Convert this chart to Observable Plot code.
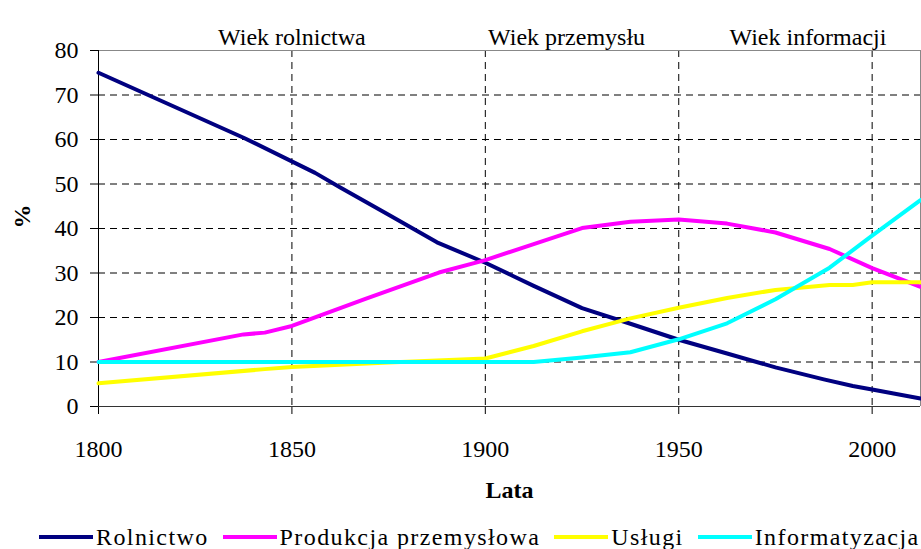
<!DOCTYPE html>
<html>
<head>
<meta charset="utf-8">
<script src="https://cdn.jsdelivr.net/npm/d3@7"></script>
<script src="https://cdn.jsdelivr.net/npm/@observablehq/plot@0.6"></script>
<style>
  html, body { margin: 0; padding: 0; background: white; }
  #wrap { position: relative; width: 921px; height: 549px; }
  #legend { position: absolute; left: 39px; top: 524px; height: 26px; display: flex; align-items: center; gap: 14px; color: black; white-space: nowrap; }
  .item { display: flex; align-items: center; gap: 3px; }
  .swatch { width: 54px; height: 4px; }
</style>
</head>
<body>
<div id="wrap"><div id="chart"></div><div id="legend"></div></div>
<script>
const seriesNames = ["Rolnictwo", "Produkcja przemysłowa", "Usługi", "Informatyzacja"];
const seriesColors = ["#000080", "#FF00FF", "#FFFF00", "#00FFFF"];

const rolYears = [1800, 1837.5, 1856, 1862.5, 1875, 1887.5, 1900, 1912.5, 1925, 1937.5, 1950, 1962.5, 1975, 1987.5, 1995, 2000, 2012.5];
const rolValues = [75, 60.4, 52.5, 49.2, 43.1, 36.9, 32.3, 27.1, 22.1, 18.6, 15, 11.9, 8.8, 6.1, 4.6, 3.8, 1.8];

const prodYears = [1800, 1837.5, 1843, 1850, 1869, 1888, 1900, 1912.5, 1925, 1937.5, 1950, 1962.5, 1975, 1989, 2000, 2012.5];
const prodValues = [10, 16.2, 16.6, 18.1, 24.2, 30.1, 32.9, 36.5, 40.1, 41.5, 42, 41.1, 39.1, 35.4, 31.1, 26.9];

const uslYears = [1800, 1843, 1850, 1875, 1900, 1912.5, 1925, 1937.5, 1950, 1962.5, 1975, 1989, 1995, 2000, 2012.5];
const uslValues = [5.2, 8.4, 8.9, 9.9, 10.8, 13.6, 16.9, 19.8, 22.2, 24.4, 26.2, 27.3, 27.3, 27.9, 27.9];

const infYears = [1800, 1912.5, 1925, 1937.5, 1950, 1962.5, 1975, 1989, 2000, 2012.5];
const infValues = [10, 10, 11, 12.2, 15.1, 18.7, 24.1, 31.2, 38.4, 46.4];

const xTicks = [1800, 1850, 1900, 1950, 2000];
const yTicks = [0, 10, 20, 30, 40, 50, 60, 70, 80];

const ageLabels = ["Wiek rolnictwa", "Wiek przemysłu", "Wiek informacji"];
const ageYears = [1850, 1921, 1983.4];

const xTitle = "Lata";
const yTitle = "%";

const allYears = [rolYears, prodYears, uslYears, infYears];
const allValues = [rolValues, prodValues, uslValues, infValues];
const data = [];
seriesNames.forEach((s, k) => {
  allYears[k].forEach((yr, i) => data.push({series: s, year: yr, value: allValues[k][i]}));
});

const FONT = "'Liberation Serif', 'Times New Roman', serif";
const dash = {stroke: "black", strokeOpacity: 1, strokeWidth: 1, strokeDasharray: "7,5"};

const chart = Plot.plot({
  width: 921,
  height: 516,
  marginLeft: 98,
  marginRight: 1,
  marginTop: 50,
  marginBottom: 110,
  x: {domain: [1800, 2012.5]},
  y: {domain: [0, 80]},
  color: {domain: seriesNames, range: seriesColors},
  style: {fontSize: "24px", fontFamily: FONT, color: "black", background: "white"},
  marks: [
    Plot.gridY(yTicks.filter(d => d > 0 && d < 80), dash),
    Plot.gridX(xTicks.filter(d => d > 1800), dash),
    Plot.ruleY([80], {stroke: "#888"}),
    Plot.ruleX([2012.5], {stroke: "#888"}),
    Plot.axisY(yTicks, {tickSize: 8, tickPadding: 12, label: null, fontSize: 24, tickFormat: d => String(d)}),
    Plot.axisX(xTicks, {tickSize: 8, tickPadding: 25, label: null, fontSize: 24, tickFormat: d => String(d)}),
    Plot.ruleX([1800], {stroke: "black"}),
    Plot.ruleY([0], {stroke: "#333"}),
    Plot.line(data, {x: "year", y: "value", z: "series", stroke: "series", strokeWidth: 4, strokeLinejoin: "round"}),
    Plot.text(ageYears, {x: d => d, text: (d, i) => ageLabels[i], frameAnchor: "top", dy: -23, fontSize: 24, fill: "black"}),
    Plot.text([xTitle], {text: d => d, frameAnchor: "bottom", dy: 91, fontWeight: "bold", fontSize: 24}),
    Plot.text([yTitle], {text: d => d, frameAnchor: "left", dx: -76, rotate: -90, fontWeight: "bold", fontSize: 24})
  ]
});
d3.select(chart).selectAll("text").style("font-family", FONT);
document.getElementById("chart").appendChild(chart);

const legend = document.getElementById("legend");
legend.style.fontFamily = FONT;
legend.style.fontSize = "24px";
legend.style.letterSpacing = "1.4px";
seriesNames.forEach((s, i) => {
  const it = document.createElement("div");
  it.className = "item";
  const sw = document.createElement("div");
  sw.className = "swatch";
  sw.style.background = seriesColors[i];
  const t = document.createElement("span");
  t.textContent = s;
  it.appendChild(sw);
  it.appendChild(t);
  legend.appendChild(it);
});
</script>
</body>
</html>
